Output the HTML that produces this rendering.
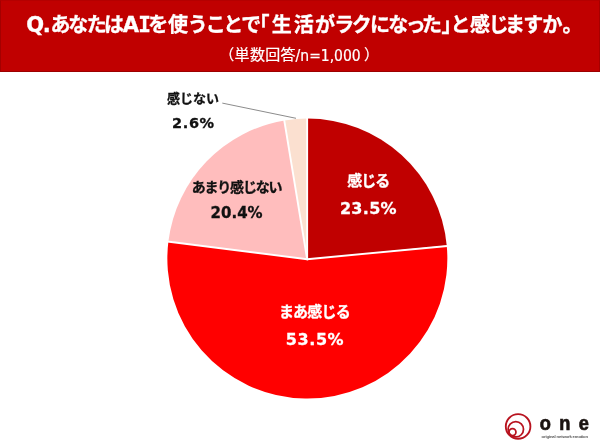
<!DOCTYPE html>
<html lang="ja">
<head>
<meta charset="utf-8">
<title>Q.あなたはAIを使うことで「生活がラクになった」と感じますか。</title>
<style>
html,body{margin:0;padding:0;background:#fff;}
body{width:600px;height:442px;position:relative;overflow:hidden;font-family:"Liberation Sans","Noto Sans CJK JP",sans-serif;}
#hdr{position:absolute;left:0;top:0;width:600px;height:72px;background:#C00000;box-sizing:border-box;border-left:1px solid #A40000;border-right:1px solid #A40000;border-bottom:1px solid #9C0000;border-top:1px solid #B40000;}
svg{position:absolute;left:0;top:0;}
.cjk{font-family:"Noto Sans CJK JP","Liberation Sans",sans-serif;font-weight:700;font-size:20px;}
.lat{font-family:"DejaVu Sans","Liberation Sans",sans-serif;font-weight:700;font-size:21px;}
.mono{font-family:"DejaVu Sans Mono","Liberation Mono",monospace;font-weight:700;font-size:21px;}
.sublat{font-family:"DejaVu Sans Condensed","DejaVu Sans","Liberation Sans",sans-serif;font-size:15.5px;font-stretch:condensed;letter-spacing:0;}
.sub{font-family:"Liberation Sans","Noto Sans CJK JP",sans-serif;font-size:15px;fill:#fff;letter-spacing:0.3px;}
.lb{position:absolute;white-space:nowrap;font-family:"Noto Sans CJK JP","Liberation Sans",sans-serif;font-weight:700;transform:translate(-50%,-50%);line-height:1;}
.num{position:absolute;white-space:nowrap;font-family:"DejaVu Sans","Liberation Sans",sans-serif;font-weight:700;transform:translate(-50%,-50%);line-height:1;}
.w{color:#fff;-webkit-text-stroke:0.3px #fff;}
.b{color:#111;-webkit-text-stroke:0.3px #111;}
</style>
</head>
<body>
<div id="hdr"></div>
<svg width="600" height="442" viewBox="0 0 600 442">
<g>
<path d="M307.15 259.20L307.35 118.60A140.0 140.0 0 0 1 446.73 245.42Z" fill="#C00000"/>
<path d="M307.15 259.20L446.73 245.42A140.0 140.0 0 1 1 168.45 241.05Z" fill="#FF0000"/>
<path d="M307.15 259.20L168.45 241.05A140.0 140.0 0 0 1 284.58 120.46Z" fill="#FFBDBD"/>
<path d="M307.15 259.20L284.58 120.46A140.0 140.0 0 0 1 307.35 118.60Z" fill="#FBE0D0"/>
</g>
<g stroke="#fff" stroke-width="1.9" stroke-linecap="round">
<line x1="307.15" y1="259.20" x2="307.15" y2="118.20"/>
<line x1="307.15" y1="259.20" x2="447.52" y2="245.93"/>
<line x1="307.15" y1="259.20" x2="167.26" y2="241.53"/>
<line x1="307.15" y1="259.20" x2="284.22" y2="120.08"/>
</g>
<line x1="222.3" y1="103.1" x2="296" y2="118.3" stroke="#8c8c8c" stroke-width="1"/>
<text y="32.4" fill="#fff" stroke="#fff" stroke-width="0.35" text-anchor="middle"><tspan class="lat" x="35.3 46.7">Q.</tspan><tspan class="cjk" x="60.4 78.3 96.7 114.0">あなたは</tspan><tspan class="lat" x="130.8">A</tspan><tspan class="mono" x="144.6">I</tspan><tspan class="cjk" x="158.2 177.9 197.7 215.8 233.3 251.3 259.5 281.7 303.8 325.0 344.3 361.7 380.0 398.3 415.8 432.0 451.5 460.4 480.0 498.8 515.0 533.3 552.5 572.5">を使うことで「生活がラクになった」と感じますか。</tspan></text>
<text class="sub" y="60" stroke="#fff" stroke-width="0.2"><tspan x="219.3">（単数回答</tspan><tspan class="sublat" x="295.6" dy="0.6">/n=1,000</tspan><tspan x="364" dy="-0.6">）</tspan></text>
<!-- logo -->
<g fill="none" stroke="#B8131F">
<circle cx="518.1" cy="426.45" r="12.3" stroke-width="1.85"/>
<circle cx="515.8" cy="429.3" r="7.7" stroke-width="1.75"/>
<circle cx="512.5" cy="432.1" r="3.45" stroke-width="1.75"/>
</g>
<g font-family="Liberation Sans, sans-serif" font-weight="700" font-size="20.5" fill="#1a1311" stroke="#1a1311" stroke-width="0.7" text-anchor="middle">
<text transform="translate(0 430.4) scale(0.89 1)" x="612.81 634.55 655.96">one</text>
</g>
<text x="564.8" y="438.3" font-family="Liberation Sans, sans-serif" font-weight="700" font-size="4.2" fill="#555" text-anchor="middle" textLength="46.5" lengthAdjust="spacing">original network emotion</text>
</svg>
<div class="lb b" style="left:193.1px;top:96.7px;font-size:13px;letter-spacing:0px;">感じない</div>
<div class="num b" style="left:193.4px;top:123.3px;font-size:14.5px;letter-spacing:0.6px;">2.6%</div>
<div class="lb b" style="left:236.5px;top:186.3px;font-size:14px;letter-spacing:-1.2px;">あまり感じない</div>
<div class="num b" style="left:236.6px;top:213.2px;font-size:15px;">20.4%</div>
<div class="lb w" style="left:368.2px;top:179px;font-size:15px;letter-spacing:-1px;">感じる</div>
<div class="num w" style="left:368.4px;top:209.3px;font-size:16px;letter-spacing:0.3px;">23.5%</div>
<div class="lb w" style="left:314.4px;top:309.8px;font-size:15px;letter-spacing:-0.8px;">まあ感じる</div>
<div class="num w" style="left:315px;top:340.4px;font-size:16px;letter-spacing:0.6px;">53.5%</div>
</body>
</html>
